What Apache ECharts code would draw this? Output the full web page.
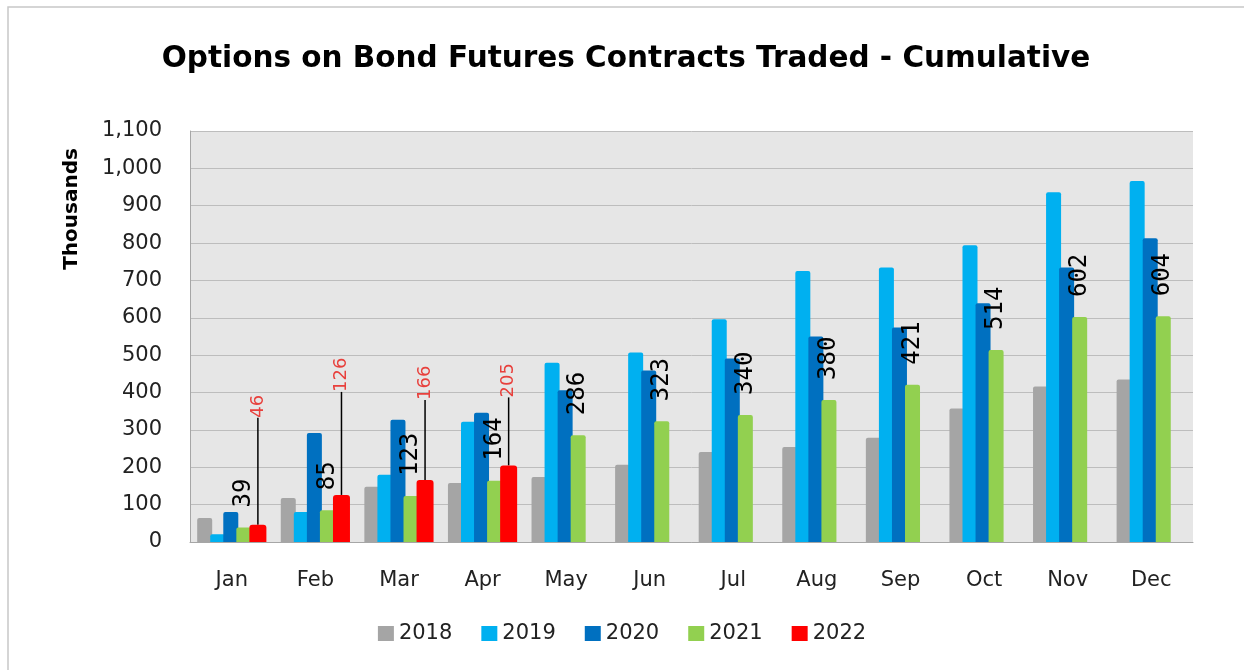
<!DOCTYPE html>
<html>
<head>
<meta charset="utf-8">
<script src="https://cdn.jsdelivr.net/npm/echarts@6/dist/echarts.min.js"></script>
<style>
html,body{margin:0;padding:0;background:#fff;}
#chart{width:1244px;height:670px;}
</style>
</head>
<body>
<div id="chart"></div>
<script>
const categories = ['Jan','Feb','Mar','Apr','May','Jun','Jul','Aug','Sep','Oct','Nov','Dec'];
const yTicks = [0,100,200,300,400,500,600,700,800,900,1000,1100];
const s2018 = [64,118,148,158,174,207,241,254,279,357,416,435];
const s2019 = [21,80,180,322,480,507,596,725,735,794,936,966];
const s2020 = [80,292,327,346,406,459,491,550,574,639,735,813];
const s2021 = [39,85,123,164,286,323,340,380,421,514,602,604];
const s2022 = [46,126,166,205];

const FONT = 'DejaVu Sans';
const label2022Lift = [102,98,75,63];

const chart = echarts.init(document.getElementById('chart'), null, {renderer:'canvas'});

function barSeries(name, data, color, extra) {
  return Object.assign({
    name: name,
    type: 'bar',
    data: data,
    barWidth: 15,
    barGap: '-13%',
    itemStyle: { color: color, borderRadius: [2,2,0,0] },
    emphasis: { disabled: true },
    animation: false
  }, extra || {});
}

const option = {
  backgroundColor: '#ffffff',
  animation: false,
  title: {
    text: 'Options on Bond Futures Contracts Traded - Cumulative',
    left: 621,
    textAlign: 'center',
    top: 39,
    textStyle: { fontFamily: FONT, fontWeight: 'bold', fontSize: 29.5, color: '#000' }
  },
  grid: {
    left: 190, right: 51, top: 131, bottom: 128,
    show: true, backgroundColor: '#E6E6E6', borderWidth: 0
  },
  legend: {
    bottom: 21,
    left: 'center',
    icon: 'rect',
    itemWidth: 16,
    itemHeight: 15,
    itemGap: 29,
    textStyle: { fontFamily: FONT, fontSize: 21, color: '#222' },
    data: ['2018','2019','2020','2021','2022']
  },
  xAxis: {
    type: 'category',
    data: categories,
    axisLine: { show: true, lineStyle: { color: '#A6A6A6', width: 1 } },
    axisTick: { show: false },
    axisLabel: { fontFamily: FONT, fontSize: 21, color: '#222', margin: 28 }
  },
  yAxis: {
    type: 'value',
    min: yTicks[0],
    max: yTicks[yTicks.length - 1],
    interval: yTicks[1] - yTicks[0],
    axisLine: { show: true, lineStyle: { color: '#A6A6A6', width: 1 } },
    axisTick: { show: false },
    splitLine: { show: true, lineStyle: { color: '#BDBDBD', width: 1 } },
    axisLabel: { fontFamily: FONT, fontSize: 21, color: '#222', margin: 28 }
  },
  graphic: [
    {
      type: 'rect',
      shape: { x: 8, y: 7, width: 1260, height: 700 },
      style: { fill: 'none', stroke: '#C8C8C8', lineWidth: 1.5 },
      silent: true
    },
    {
      type: 'text',
      x: 72, y: 209,
      rotation: Math.PI / 2,
      style: {
        text: 'Thousands',
        font: 'bold 20px "DejaVu Sans"',
        fill: '#000',
        textAlign: 'center',
        textVerticalAlign: 'middle'
      },
      silent: true
    }
  ],
  series: [
    barSeries('2018', s2018, '#A5A5A5'),
    barSeries('2019', s2019, '#00B0F0'),
    barSeries('2020', s2020, '#0070C0'),
    barSeries('2021', s2021, '#92D050', {
      label: {
        show: true,
        position: 'top',
        distance: 20,
        rotate: 90,
        align: 'left',
        verticalAlign: 'middle',
        fontFamily: 'DejaVu Sans Mono',
        fontSize: 24,
        color: '#000',
        formatter: '{c}'
      }
    }),
    barSeries('2022', s2022, '#FF0000', {
      barWidth: 17,
      itemStyle: { color: '#FF0000', borderRadius: [3,3,0,0] },
      label: {
        show: true,
        position: 'top',
        distance: 5,
        rotate: 90,
        align: 'left',
        verticalAlign: 'middle',
        fontFamily: FONT,
        fontSize: 18,
        color: '#E8403C',
        formatter: '{c}'
      },
      labelLine: { show: true, lineStyle: { color: '#000', width: 1.5 } },
      labelLayout: function (p) { return { dx: label2022Lift[p.dataIndex] }; }
    })
  ]
};
chart.setOption(option);
</script>
</body>
</html>
